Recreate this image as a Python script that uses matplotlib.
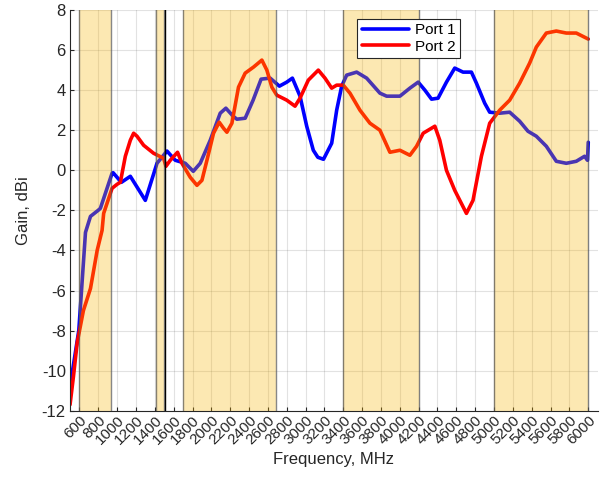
import matplotlib
matplotlib.use("Agg")
import matplotlib.pyplot as plt

# ---- data ----
port1_freq = [500, 593, 664, 717, 798, 822, 946, 957, 1045, 1140, 1299, 1423, 1529, 1617,
              1723, 1808, 1882, 1988, 2094, 2154, 2231, 2271, 2359, 2443, 2528, 2624, 2722,
              2800, 2860, 2941, 3012, 3082, 3130, 3190, 3277, 3330, 3383, 3436, 3542, 3648,
              3789, 3860, 4001, 4107, 4195, 4266, 4337, 4406, 4495, 4583, 4671, 4760, 4813,
              4901, 4954, 5060, 5166, 5272, 5360, 5449, 5555, 5661, 5767, 5873, 5961, 5992, 6000]
port1_gain = [-10.8, -8.0, -3.1, -2.3, -2.0, -1.9, -0.15, -0.12, -0.6, -0.3, -1.5, 0.35, 0.96, 0.5,
              0.35, -0.05, 0.35, 1.5, 2.85, 3.1, 2.7, 2.55, 2.6, 3.5, 4.55, 4.6, 4.2,
              4.4, 4.6, 3.7, 2.2, 1.0, 0.65, 0.55, 1.35, 3.0, 4.2, 4.75, 4.9, 4.6,
              3.85, 3.7, 3.7, 4.1, 4.4, 4.0, 3.55, 3.6, 4.4, 5.1, 4.9, 4.9, 4.35,
              3.35, 2.9, 2.85, 2.9, 2.45, 1.95, 1.7, 1.2, 0.45, 0.35, 0.45, 0.7, 0.5, 1.4]

port2_freq = [500, 536, 576, 642, 717, 788, 840, 857, 946, 999, 1034, 1087, 1140, 1175, 1211,
              1281, 1387, 1493, 1518, 1564, 1641, 1688, 1776, 1847, 1900, 1953, 2023, 2083,
              2129, 2165, 2218, 2288, 2359, 2447, 2536, 2589, 2642, 2694, 2800, 2888, 2941,
              3029, 3135, 3206, 3277, 3330, 3400, 3471, 3577, 3683, 3789, 3895, 4001, 4107,
              4178, 4248, 4372, 4424, 4495, 4583, 4707, 4777, 4866, 4954, 5060, 5166, 5272,
              5378, 5449, 5555, 5661, 5767, 5873, 6000]
port2_gain = [-11.7, -10.3, -8.6, -7.0, -5.9, -4.0, -3.0, -2.15, -0.9, -0.7, -0.6, 0.7, 1.5, 1.85, 1.7,
              1.25, 0.85, 0.6, 0.2, 0.5, 0.9, 0.35, -0.35, -0.75, -0.5, 0.5, 1.85, 2.4,
              2.1, 1.9, 2.35, 4.15, 4.85, 5.15, 5.5, 5.0, 4.15, 3.75, 3.5, 3.2, 3.6,
              4.5, 5.0, 4.6, 4.1, 4.25, 4.25, 3.85, 3.0, 2.35, 2.0, 0.9, 1.0, 0.75,
              1.2, 1.85, 2.2, 1.5, 0.0, -1.0, -2.15, -1.5, 0.7, 2.35, 3.0, 3.5, 4.35,
              5.35, 6.15, 6.85, 6.95, 6.85, 6.85, 6.55]

band_start = [600, 1410, 1700, 3400, 5000]
band_end = [940, 1500, 2690, 4200, 6000]
marker_freq = [1505]

x_ticks = list(range(600, 6001, 200))
y_ticks = list(range(-12, 9, 2))

plt.rcParams['font.family'] = ['Liberation Sans', 'DejaVu Sans']

fig = plt.figure(figsize=(6.10, 4.86), dpi=100)
ax = fig.add_axes([0.1148, 0.1549, 0.8650, 0.8245])

ax.plot(port1_freq, port1_gain, color='#0000ff', lw=2.6, label='Port 1', zorder=2,
        solid_joinstyle='round', solid_capstyle='round')
ax.plot(port2_freq, port2_gain, color='#ff0000', lw=2.6, label='Port 2', zorder=2,
        solid_joinstyle='round', solid_capstyle='round')

for s, e in zip(band_start, band_end):
    ax.axvspan(s, e, facecolor=(0.97, 0.70, 0.0), alpha=0.30, zorder=3, lw=0)
    ax.axvline(s, color='#555555', lw=1.0, alpha=0.7, zorder=3)
    ax.axvline(e, color='#555555', lw=1.0, alpha=0.7, zorder=3)
for m in marker_freq:
    ax.axvline(m, color='black', lw=1.0, zorder=3)

ax.set_xlim(500, 6100)
ax.set_ylim(-12, 8)
ax.set_xticks(x_ticks)
ax.set_xticklabels([str(t) for t in x_ticks], rotation=45, ha='right', va='top',
                   rotation_mode='anchor', fontsize=11, color='#262626')
ax.set_yticks(y_ticks)
ax.set_yticklabels([str(t) for t in y_ticks], fontsize=12, color='#262626')
ax.tick_params(axis='both', direction='in', length=3, width=0.8, color='#262626', pad=3)
ax.tick_params(axis='x', pad=2)

ax.grid(True, color='#262626', alpha=0.13, lw=0.8, zorder=0)
ax.set_axisbelow(True)
for side in ['top', 'right']:
    ax.spines[side].set_visible(False)
for side in ['left', 'bottom']:
    ax.spines[side].set_color('#262626')
    ax.spines[side].set_linewidth(0.8)

ax.set_xlabel('Frequency, MHz', fontsize=12, color='#262626', labelpad=3)
ax.set_ylabel('Gain, dBi', fontsize=12, color='#262626', labelpad=8)

leg = ax.legend(loc='upper left', bbox_to_anchor=(0.544, 0.978), fontsize=11,
                handlelength=3.1, handletextpad=0.4, borderpad=0.3, labelspacing=0.15,
                fancybox=False, framealpha=1, edgecolor='#262626', borderaxespad=0)
leg.get_frame().set_linewidth(0.8)
leg.set_zorder(5)

fig.savefig('out.png', dpi=100)
